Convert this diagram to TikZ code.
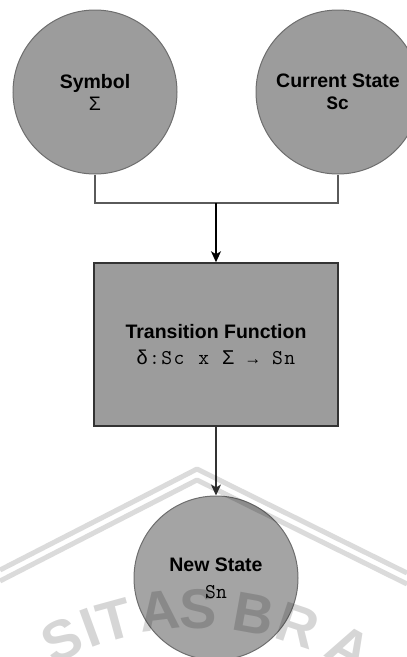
\documentclass[tikz,border=0pt]{standalone}
\usepackage{fontspec}
\setmainfont{Liberation Sans}
\setmonofont{Liberation Mono}
\newfontfamily\courierlike{Latin Modern Mono}
\usetikzlibrary{arrows.meta,calc}
\definecolor{nodefill}{HTML}{9C9C9C}
\definecolor{nodeedge}{HTML}{6E6E6E}
\definecolor{boxedge}{HTML}{333333}
\definecolor{wirecol}{HTML}{5A5A5A}
% one fixed-width cell of the formula line
\newcommand\cell[1]{\makebox[12.3pt]{#1}}
\begin{document}
\begin{tikzpicture}[x=1pt,y=-1pt,
  state/.style={circle, draw=nodeedge, fill=nodefill, line width=1pt,
    minimum size=164pt, inner sep=0pt, align=center, text=black},
  fnbox/.style={rectangle, draw=boxedge, fill=nodefill, line width=1.5pt,
    minimum width=244pt, minimum height=163pt, inner sep=0pt, align=center, text=black},
  wire/.style={draw=wirecol, line width=1.6pt},
  flow/.style={line width=1.4pt, -{Stealth[length=11pt,width=10pt,inset=3pt]}},
  wm/.style={text=black, opacity=0.16, font=\fontsize{56}{56}\selectfont\bfseries, inner sep=0pt},
  wmband/.style={draw=black, draw opacity=0.14, line width=5pt, line join=round}]
\useasboundingbox (0,0) rectangle (407,657);
\clip (0,0) rectangle (407,657);

% input states
\node[state, font=\fontsize{19.5}{22}\selectfont] (sym) at (95,92)
  {\textbf{Symbol}\\Σ};
\node[state, font=\fontsize{19.5}{22}\selectfont] (cur) at (338,92)
  {\textbf{Current State}\\{\fontsize{19}{22}\selectfont\ttfamily\bfseries Sc}};

% transition function
\node[fnbox, font=\fontsize{19.5}{26}\selectfont] (tf) at (216,344.5)
  {\textbf{Transition Function}\\{\fontsize{21}{26}\selectfont
   \cell{\fontsize{20}{26}\selectfont δ}\cell{\courierlike :}\cell{\courierlike S}\cell{\courierlike c}\cell{}%
   \cell{\courierlike x}\cell{}\cell{\fontsize{20}{26}\selectfont Σ}\cell{}\cell{\fontsize{17}{17}\selectfont →}\cell{}%
   \cell{\courierlike S}\cell{\courierlike n}}};

% resulting state
\node[state, fill=nodefill!92!white, font=\fontsize{19.5}{27}\selectfont] (ns) at (216,578)
  {\textbf{New State}\\{\fontsize{21}{27}\selectfont\courierlike Sn}};

% connectors
\coordinate (join) at (216,203);
\draw[wire] (sym.south) |- (join) -| (cur.south);
\draw[flow, black] (join) -- (tf.north);
\draw[flow, draw=boxedge, fill=boxedge, line width=1.2pt] (tf.south) -- (ns.north);

% background seal
\draw[wmband] (0,570) -- (197,469) -- (407,573);
\draw[wmband] (0,581) -- (197,480) -- (407,584);
\foreach \ch/\th [count=\i] in {S/-25.6, I/-20.1, T/-15.3, A/-7.0, S/0, B/10.2, R/18.5, A/28.8}
  \node[wm, rotate=-\th] (wm\i) at ({198+315*sin(\th)},{924-315*cos(\th)}) {\ch};
\end{tikzpicture}
\end{document}
